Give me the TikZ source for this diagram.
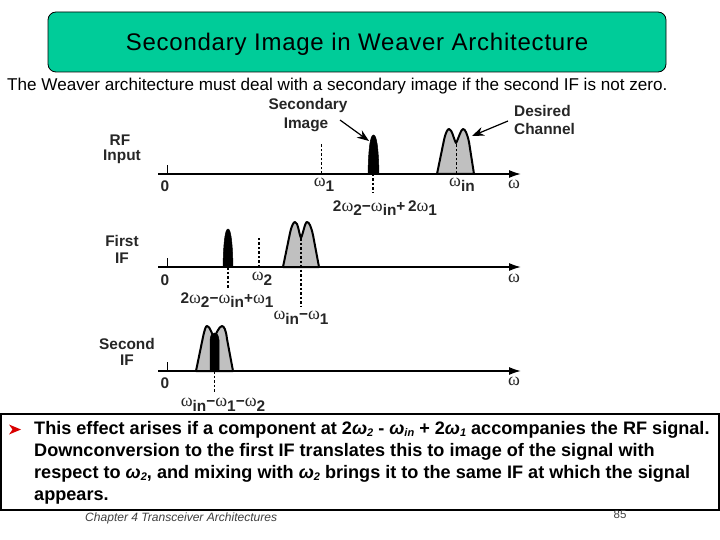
\documentclass[tikz,border=0pt]{standalone}
\usepackage{fontspec}
\setmainfont{Liberation Sans}
\newfontfamily\omfont{Liberation Serif}
\newfontfamily\titlefont[LetterSpace=3.2]{Liberation Sans}
\usetikzlibrary{arrows.meta}
\definecolor{titlegreen}{HTML}{00CC99}
\definecolor{bandgrey}{HTML}{C0C0C0}
\newcommand{\om}[1]{{\omfont\mdseries\fontsize{18}{16}\selectfont ω}\raisebox{-0.55ex}{\bfseries #1}}
\newcommand{\omm}{{\omfont\mdseries\fontsize{18}{16}\selectfont ω}}
\newcommand{\bw}[1]{\textit{ω}\raisebox{-0.3ex}{\fontsize{11}{11}\selectfont\textit{#1}}}
\tikzset{
  x=1pt,y=-1pt,
  lab/.style={inner sep=0pt,font=\fontsize{15.4}{15}\selectfont\bfseries,text=black!85},
  axis/.style={line width=1.6pt,-{Latex[length=12pt,width=8pt]}},
  tickmark/.style={line width=0.8pt},
  dash1/.style={line width=0.9pt,dash pattern=on 2.5pt off 2pt},
  dash2/.style={line width=1.6pt,dash pattern=on 2.5pt off 2pt},
  band/.style={draw=black,line width=2pt,fill=bandgrey,line join=round},
  peak/.style={draw=black,fill=black,line width=0.5pt},
  callout/.style={line width=1.2pt,-{Stealth[length=12pt,width=9pt]}},
  body/.style={anchor=base west,inner sep=0pt,font=\fontsize{18.1}{18}\selectfont\bfseries},
  foot/.style={inner sep=0pt,text=black!75,font=\fontsize{12.05}{12}\selectfont\itshape}
}
\begin{document}
\begin{tikzpicture}
\useasboundingbox (0,0) rectangle (720,540);
\fill[white] (0,0) rectangle (720,540);
% title
\node[draw=black,line width=0.8pt,fill=titlegreen,rounded corners=8pt,minimum width=618pt,minimum height=60pt,inner sep=0pt] (title) at (357,42) {};
\node[inner sep=0pt,font=\titlefont\fontsize{24}{24}\selectfont] (titletext) at (357,44) {Secondary Image in Weaver Architecture};
\node[inner sep=0pt,font=\fontsize{17.1}{18}\selectfont,anchor=west] (intro) at (7,86) {The Weaver architecture must deal with a secondary image if the second IF is not zero.};

% panel 1
\coordinate (a1s) at (158,174); \coordinate (a1e) at (521,174);
\coordinate (t1a) at (167,174); \coordinate (t1b) at (167,165);
\coordinate (d1a) at (321,174); \coordinate (d1b) at (321,143);
\coordinate (d2a) at (373,174); \coordinate (d2b) at (373,193);
\coordinate (d3a) at (456,174); \coordinate (d3b) at (456,143);
\filldraw[band] (437,174) -- (444,140) .. controls (446,131) and (448,129) .. (449,129) .. controls (452,129) and (454,140) .. (456,143) .. controls (458,140) and (461,129) .. (463,129) .. controls (465,129) and (467,133) .. (469,142) -- (474,174) -- cycle;
\filldraw[peak] (368,174) .. controls (368.5,150) and (370,135) .. (373.5,135) .. controls (377,135) and (378.5,150) .. (379,174) -- cycle;
\draw[dash1] (d1a) -- (d1b);
\draw[dash1] (d3a) -- (d3b);
\draw[dash2] (d2a) -- (d2b);
\draw[tickmark] (t1a) -- (t1b);
\draw[axis] (a1s) -- (a1e);
\node[lab] (z1) at (165,186) {0};
\node[lab] (w1) at (324,185) {\om{1}};
\node[lab] (win) at (462,185) {\om{in}};
\node[lab] (wa) at (514,184) {\omm};
\node[lab] (f1) at (385,208) {2\om{2}−\om{in}+\,2\om{1}};
\node[lab] (sec1) at (308,106) {Secondary};
\node[lab] (sec2) at (306,125) {Image};
\node[lab,anchor=west] (des1) at (514,111) {Desired};
\node[lab,anchor=west] (des2) at (514,129) {Channel};
\node[lab] (rf1) at (120,140) {RF};
\node[lab] (rf2) at (122,157) {Input};
\coordinate (c1a) at (340,120); \coordinate (c1b) at (369,141);
\coordinate (c2a) at (508,121); \coordinate (c2b) at (472,136);
\draw[callout] (c1a) -- (c1b);
\draw[callout] (c2a) -- (c2b);

% panel 2
\coordinate (a2s) at (158,267); \coordinate (a2e) at (521,267);
\coordinate (t2a) at (167,267); \coordinate (t2b) at (167,258);
\coordinate (d4a) at (228,267); \coordinate (d4b) at (228,289);
\coordinate (d5a) at (259,267); \coordinate (d5b) at (259,237);
\coordinate (d6a) at (301,238); \coordinate (d6b) at (301,307);
\filldraw[band] (283,267) -- (290,233) .. controls (292,224) and (294,222) .. (295,222) .. controls (298,222) and (299,234) .. (301,238) .. controls (303,234) and (305,222) .. (307,222) .. controls (309,222) and (311,226) .. (313,235) -- (319,267) -- cycle;
\filldraw[peak] (223,267) .. controls (223.5,243) and (225,229) .. (228,229) .. controls (231,229) and (232.5,243) .. (233,267) -- cycle;
\draw[dash2] (d4a) -- (d4b);
\draw[dash2] (d5a) -- (d5b);
\draw[dash2] (d6a) -- (d6b);
\draw[tickmark] (t2a) -- (t2b);
\draw[axis] (a2s) -- (a2e);
\node[lab] (z2) at (165,280) {0};
\node[lab] (w2) at (262,279) {\om{2}};
\node[lab] (wb) at (514,278) {\omm};
\node[lab] (f2) at (227,300) {2\om{2}−\om{in}+\om{1}};
\node[lab] (f3) at (301,318) {\om{in}−\om{1}};
\node[lab] (fi1) at (122,241) {First};
\node[lab] (fi2) at (122,258) {IF};

% panel 3
\coordinate (a3s) at (158,371); \coordinate (a3e) at (521,371);
\coordinate (t3a) at (167,371); \coordinate (t3b) at (167,362);
\coordinate (d7a) at (214,371); \coordinate (d7b) at (214,393);
\filldraw[band] (196,371) -- (203,337) .. controls (205,328) and (206,326) .. (207,326) .. controls (210,326) and (212,335) .. (214,337) .. controls (216,335) and (219,326) .. (222,326) .. controls (224,326) and (226,330) .. (227,339) -- (233,371) -- cycle;
\filldraw[peak] (210,371) -- (210,340) .. controls (210.5,335) and (212,333) .. (214.5,333) .. controls (217,333) and (218.5,335) .. (219,340) -- (219,371) -- cycle;
\draw[dash1] (d7a) -- (d7b);
\draw[tickmark] (t3a) -- (t3b);
\draw[axis] (a3s) -- (a3e);
\node[lab] (z3) at (165,383) {0};
\node[lab] (wc) at (514,381) {\omm};
\node[lab] (f4) at (223,405) {\om{in}−\om{1}−\om{2}};
\node[lab] (si1) at (127,344) {Second};
\node[lab] (si2) at (127,360) {IF};

% body box
\node[draw=black,line width=2pt,fill=white,minimum width=718pt,minimum height=96pt,inner sep=0pt] (bodybox) at (360,462) {};
\fill[red!85!black] (9,424.5) -- (21,429.5) -- (9,434.5) -- (12.5,429.5) -- cycle;
\node[body] (l1) at (34,434) {This effect arises if a component at 2\bw{2} - \bw{in} + 2\bw{1} accompanies the RF signal.};
\node[body] (l2) at (34,456) {Downconversion to the first IF translates this to image of the signal with};
\node[body] (l3) at (34,478) {respect to \bw{2}, and mixing with \bw{2} brings it to the same IF at which the signal};
\node[body] (l4) at (34,500) {appears.};
\node[foot,anchor=west] (chap) at (85,518) {Chapter 4 Transceiver Architectures};
\node[inner sep=0pt,text=black!75,font=\fontsize{11.5}{12}\selectfont] (pg) at (620,515) {85};
\end{tikzpicture}
\end{document}
